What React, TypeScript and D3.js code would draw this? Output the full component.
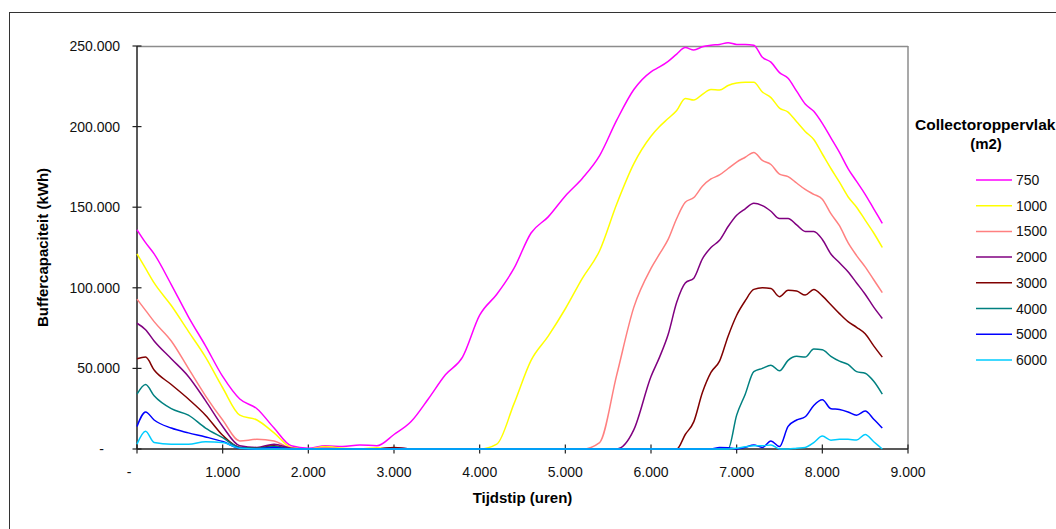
import React from 'react';
import * as d3 from 'd3';

// ---- data ----
const hours = [0,100,200,400,600,800,1000,1200,1400,1600,1800,2000,2200,2400,2600,2800,3000,3200,3400,3600,3800,4000,4200,4400,4600,4800,5000,5200,5400,5600,5800,
  6000,6100,6200,6300,6400,6500,6600,6700,6800,6900,7000,7100,7200,7300,7400,7500,7600,7700,7800,7900,8000,8100,8200,8300,8400,8500,8600,8700];

const s750 = [136000,128000,121000,102000,82000,64000,45000,31000,25000,13000, 2000,500,2000,1500,2500,2000,9000,17000,31000,46000, 57000,83000,96000,112000,134000,144000,157000,168000,182000,204000, 223000,
  234000,237000,240500,245000,249000,247500,249500,250500,251000,252000, 251000,251000,250500,243000,240000,233500,230000,222000,214000,209500, 202000,193000,184000,174000,166000,158000,149000,140000];
const s1000 = [121000,112000,103000,89000,73000,57000,38000,21000,18000,10000, 1000,0,1500,500,0,800,0,0,0,0, 0,0,3000,28000,55000,70000,87000,106000,123000,152000, 177000,
  194000,200000,205000,210000,217500,216500,220000,223000,222700,225500, 227000,227500,227500,221500,218000,211500,209000,203000,197000,192000, 183000,174000,165500,156500,150000,142000,134000,125000];
const s1500 = [93000,86000,79000,67000,50000,33000,18000,5000,6000,5000, 500,0,1000,0,0,0,0,0,0,0, 0,0,0,0,0,0,0,0,4000,46000, 88000,
  112000,121000,130000,143000,153000,156000,163000,167500,170000,174000, 178000,181000,184000,179000,176500,170500,169000,165000,161000,158000, 155000,146000,138500,128000,120000,113000,105000,97000];
const s2000 = [78000,74000,67000,56000,45000,30000,14000,2000,1000,3000, 500,0,0,0,0,0,800,0,0,0, 0,0,0,0,0,0,0,0,0,0, 12000,
  45000,57000,71000,91000,103000,106000,118000,125000,129500,138000, 145000,149000,152500,151000,147500,143000,143000,139000,135000,135000, 130000,121000,115500,110000,103000,96000,88000,81000];
const s3000 = [56000,57000,49000,40000,31000,21000,8500,1000,500,2000, 0,0,0,0,0,0,1000,0,0,0, 0,0,0,0,0,0,0,0,0,0, 0,
  0,0,0,0,9000,17000,35000,47500,54500,70000, 83000,92000,99000,100000,99500,94500,98500,98000,95500,99000, 95000,89500,84000,79000,75500,71500,64000,57000];
const s4000 = [34000,40000,33000,25000,21000,13000,7000,1000,500,1500, 0,0,0,0,0,0,0,0,0,0, 0,0,0,0,0,0,0,0,0,0, 0,
  0,0,0,0,0,0,0,0,0,0, 21000,34000,48000,50000,52000,48500,55000,57500,57000,62000, 61500,57500,54500,52500,48000,47000,42000,34000];
const s5000 = [14000,23000,18000,13000,10000,7500,4600,500,0,1000, 0,0,0,0,0,0,0,0,0,0, 0,0,0,0,0,0,0,0,0,0, 0,
  0,0,0,0,0,0,0,0,1000,800, 0,1000,2500,1000,5000,1500,14000,18000,20000,27000, 30500,25000,24500,23000,21000,23500,18500,13000];
const s6000 = [3000,11000,4000,3000,3000,4500,4000,500,0,0, 0,0,0,0,0,0,0,0,0,0, 0,0,0,0,0,0,0,0,0,0, 0,
  0,0,0,0,0,0,0,0,0,0, 500,1400,2000,2000,2500,0,0,500,1000,4000, 8000,5500,6000,6000,5600,9000,4500,0];

const seriesNames = ['750','1000','1500','2000','3000','4000','5000','6000'];
const seriesValues = [s750, s1000, s1500, s2000, s3000, s4000, s5000, s6000];
const seriesColors = ['#FF00FF','#FFFF00','#FF8080','#800080','#800000','#008080','#0000FF','#00CCFF'];

const xTicks = [0,1000,2000,3000,4000,5000,6000,7000,8000,9000];
const yTicks = [0,50000,100000,150000,200000,250000];
const xTitle = 'Tijdstip (uren)';
const yTitle = 'Buffercapaciteit (kWh)';
const legendTitle1 = 'Collectoroppervlak';
const legendTitle2 = '(m2)';

const nl = d3.formatLocale({ decimal: ',', thousands: '.', grouping: [3], currency: ['€', ''] });
const fmt = (v: number) => (v === 0 ? '-' : nl.format(',')(v));

const FONT = 'Arial, "Liberation Sans", sans-serif';

export default function App() {
  const left = 137, right = 908, top = 46, bottom = 449;
  const x = d3.scaleLinear().domain([0, 9000]).range([left, right]);
  const y = d3.scaleLinear().domain([0, 250000]).range([bottom, top]);
  const line = d3.line<number>()
    .x((_, i) => x(hours[i]))
    .y((d) => y(d))
    .curve(d3.curveMonotoneX);

  const legendX1 = 976, legendX2 = 1012, legendY0 = 180, legendStep = 25.7;

  return (
    <svg width={1056} height={529} style={{ position: 'absolute', left: 0, top: 0, background: '#fff' }} fontFamily={FONT}>
      <rect x={0} y={0} width={1056} height={529} fill="#fff" />
      {/* chart border */}
      <rect x={9.5} y={12.5} width={1100} height={600} fill="none" stroke="#333" strokeWidth={1} />
      {/* plot area top & right borders */}
      <line x1={left} x2={right} y1={top + 0.5} y2={top + 0.5} stroke="#8c8c8c" strokeWidth={1.5} />
      <line x1={right} x2={right} y1={top} y2={bottom} stroke="#8c8c8c" strokeWidth={1.5} />
      {/* axes */}
      <line x1={left} x2={left} y1={top} y2={bottom} stroke="#222" strokeWidth={1.5} />
      <line x1={left} x2={right} y1={bottom} y2={bottom} stroke="#222" strokeWidth={1.5} />
      {yTicks.map((t) => (
        <g key={'yt' + t}>
          <line x1={left - 4.5} x2={left + 4.5} y1={y(t)} y2={y(t)} stroke="#222" strokeWidth={1.2} />
          <text x={t === 0 ? 104 : 120} y={y(t) + 5} textAnchor="end" fontSize={14} fill="#111">{fmt(t)}</text>
        </g>
      ))}
      {xTicks.map((t) => (
        <g key={'xt' + t}>
          <line x1={x(t)} x2={x(t)} y1={bottom - 4.5} y2={bottom + 4.5} stroke="#222" strokeWidth={1.2} />
          <text x={t === 0 ? x(t) - 8 : x(t)} y={477} textAnchor="middle" fontSize={14} fill="#111">{fmt(t)}</text>
        </g>
      ))}
      {/* series */}
      {seriesValues.map((vals, i) => (
        <path key={seriesNames[i]} d={line(vals) || ''} fill="none" stroke={seriesColors[i]} strokeWidth={1.5} />
      ))}
      {/* axis titles */}
      <text x={(left + right) / 2} y={503} textAnchor="middle" fontSize={15} fontWeight="bold" fill="#000">{xTitle}</text>
      <text transform={`translate(48,${(top + bottom) / 2}) rotate(-90)`} textAnchor="middle" fontSize={15} fontWeight="bold" fill="#000">{yTitle}</text>
      {/* legend */}
      <text x={915} y={130} fontSize={15.5} fontWeight="bold" fill="#000">{legendTitle1}</text>
      <text x={986} y={149} textAnchor="middle" fontSize={15} fontWeight="bold" fill="#000">{legendTitle2}</text>
      {seriesNames.map((n, i) => {
        const ly = legendY0 + i * legendStep;
        return (
          <g key={'lg' + n}>
            <line x1={legendX1} x2={legendX2} y1={ly} y2={ly} stroke={seriesColors[i]} strokeWidth={1.5} />
            <text x={1016} y={ly + 5} fontSize={14} fill="#111">{n}</text>
          </g>
        );
      })}
    </svg>
  );
}
